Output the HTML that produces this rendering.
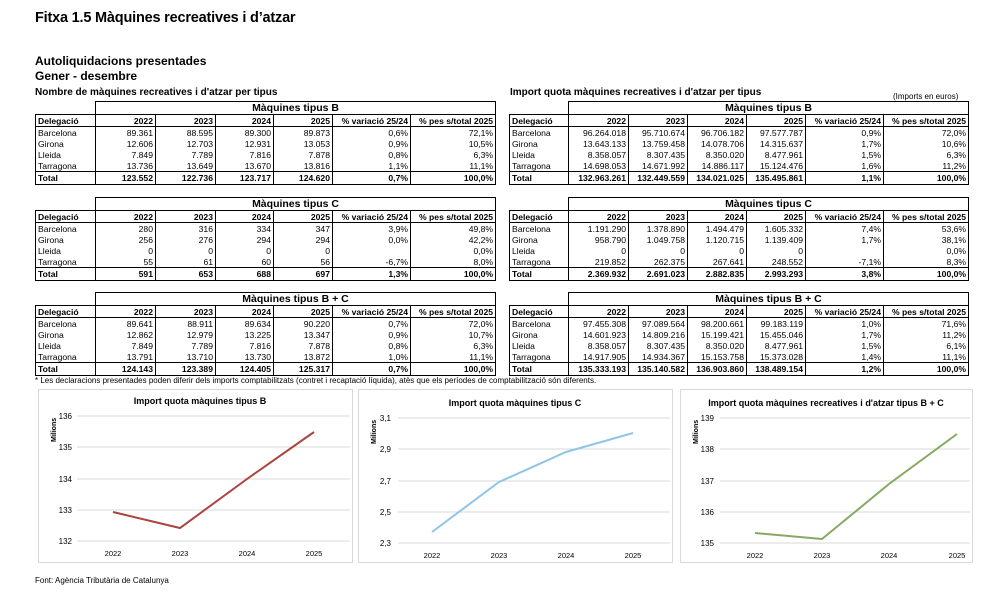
<!DOCTYPE html>
<html><head><meta charset="utf-8"><style>
body{margin:0;width:1000px;height:595px;background:#fff;position:relative;font-family:"Liberation Sans",Arial,sans-serif;color:#000;overflow:hidden}
.a{position:absolute;white-space:nowrap}
table{position:absolute;border-collapse:collapse;table-layout:fixed;font-size:8.6px;border:none}
td{padding:0 2px;text-align:right;border-left:1px solid #000;border-right:1px solid #000;line-height:10px;height:11px;overflow:hidden;white-space:nowrap}
td:first-child{text-align:left}
tr.t td{border:none;border-bottom:1px solid #000}
tr.t td.h{border:1.5px solid #000;text-align:center;font-weight:bold;font-size:10.5px;height:12px;line-height:12px}
tr.hd td{font-weight:bold;border:1px solid #000;height:11px}
tr.hd td:first-child{border-left:1.5px solid #000}
tr.tot td{font-weight:bold;border-top:1px solid #000;border-bottom:1.5px solid #000;height:12px}
tr td:first-child{border-left:1.5px solid #000}
tr td:last-child{border-right:1.5px solid #000}
tr.t td:first-child{border-left:none}
</style></head><body>
<div class="a" style="left:35px;top:10px;font-size:14.5px;font-weight:bold;letter-spacing:-0.2px">Fitxa 1.5 Màquines recreatives i d’atzar</div>
<div class="a" style="left:35px;top:54px;font-size:12px;font-weight:bold">Autoliquidacions presentades</div>
<div class="a" style="left:35px;top:69px;font-size:12px;font-weight:bold">Gener - desembre</div>
<div class="a" style="left:35px;top:87px;font-size:10px;font-weight:bold">Nombre de màquines recreatives i d'atzar per tipus</div>
<div class="a" style="left:510px;top:87px;font-size:10px;font-weight:bold">Import quota màquines recreatives i d'atzar per tipus</div>
<div class="a" style="left:893px;top:92px;font-size:8px">(Imports en euros)</div>

<table style="left:35px;top:101px;width:460px">
<colgroup><col style="width:60px"><col style="width:60px"><col style="width:60px"><col style="width:58px"><col style="width:59px"><col style="width:78px"><col style="width:85px"></colgroup>
<tr class="t"><td></td><td class="h" colspan="6">Màquines tipus B</td></tr>
<tr class="hd"><td>Delegació</td><td>2022</td><td>2023</td><td>2024</td><td>2025</td><td>% variació 25/24</td><td>% pes s/total 2025</td></tr>
<tr><td>Barcelona</td><td>89.361</td><td>88.595</td><td>89.300</td><td>89.873</td><td>0,6%</td><td>72,1%</td></tr>
<tr><td>Girona</td><td>12.606</td><td>12.703</td><td>12.931</td><td>13.053</td><td>0,9%</td><td>10,5%</td></tr>
<tr><td>Lleida</td><td>7.849</td><td>7.789</td><td>7.816</td><td>7.878</td><td>0,8%</td><td>6,3%</td></tr>
<tr><td>Tarragona</td><td>13.736</td><td>13.649</td><td>13.670</td><td>13.816</td><td>1,1%</td><td>11,1%</td></tr>
<tr class="tot"><td>Total</td><td>123.552</td><td>122.736</td><td>123.717</td><td>124.620</td><td>0,7%</td><td>100,0%</td></tr>
</table>
<table style="left:35px;top:197px;width:460px">
<colgroup><col style="width:60px"><col style="width:60px"><col style="width:60px"><col style="width:58px"><col style="width:59px"><col style="width:78px"><col style="width:85px"></colgroup>
<tr class="t"><td></td><td class="h" colspan="6">Màquines tipus C</td></tr>
<tr class="hd"><td>Delegació</td><td>2022</td><td>2023</td><td>2024</td><td>2025</td><td>% variació 25/24</td><td>% pes s/total 2025</td></tr>
<tr><td>Barcelona</td><td>280</td><td>316</td><td>334</td><td>347</td><td>3,9%</td><td>49,8%</td></tr>
<tr><td>Girona</td><td>256</td><td>276</td><td>294</td><td>294</td><td>0,0%</td><td>42,2%</td></tr>
<tr><td>Lleida</td><td>0</td><td>0</td><td>0</td><td>0</td><td></td><td>0,0%</td></tr>
<tr><td>Tarragona</td><td>55</td><td>61</td><td>60</td><td>56</td><td>-6,7%</td><td>8,0%</td></tr>
<tr class="tot"><td>Total</td><td>591</td><td>653</td><td>688</td><td>697</td><td>1,3%</td><td>100,0%</td></tr>
</table>
<table style="left:35px;top:292px;width:460px">
<colgroup><col style="width:60px"><col style="width:60px"><col style="width:60px"><col style="width:58px"><col style="width:59px"><col style="width:78px"><col style="width:85px"></colgroup>
<tr class="t"><td></td><td class="h" colspan="6">Màquines tipus B + C</td></tr>
<tr class="hd"><td>Delegació</td><td>2022</td><td>2023</td><td>2024</td><td>2025</td><td>% variació 25/24</td><td>% pes s/total 2025</td></tr>
<tr><td>Barcelona</td><td>89.641</td><td>88.911</td><td>89.634</td><td>90.220</td><td>0,7%</td><td>72,0%</td></tr>
<tr><td>Girona</td><td>12.862</td><td>12.979</td><td>13.225</td><td>13.347</td><td>0,9%</td><td>10,7%</td></tr>
<tr><td>Lleida</td><td>7.849</td><td>7.789</td><td>7.816</td><td>7.878</td><td>0,8%</td><td>6,3%</td></tr>
<tr><td>Tarragona</td><td>13.791</td><td>13.710</td><td>13.730</td><td>13.872</td><td>1,0%</td><td>11,1%</td></tr>
<tr class="tot"><td>Total</td><td>124.143</td><td>123.389</td><td>124.405</td><td>125.317</td><td>0,7%</td><td>100,0%</td></tr>
</table>

<table style="left:509px;top:101px;width:459px">
<colgroup><col style="width:59px"><col style="width:60px"><col style="width:59px"><col style="width:59px"><col style="width:59px"><col style="width:78px"><col style="width:85px"></colgroup>
<tr class="t"><td></td><td class="h" colspan="6">Màquines tipus B</td></tr>
<tr class="hd"><td>Delegació</td><td>2022</td><td>2023</td><td>2024</td><td>2025</td><td>% variació 25/24</td><td>% pes s/total 2025</td></tr>
<tr><td>Barcelona</td><td>96.264.018</td><td>95.710.674</td><td>96.706.182</td><td>97.577.787</td><td>0,9%</td><td>72,0%</td></tr>
<tr><td>Girona</td><td>13.643.133</td><td>13.759.458</td><td>14.078.706</td><td>14.315.637</td><td>1,7%</td><td>10,6%</td></tr>
<tr><td>Lleida</td><td>8.358.057</td><td>8.307.435</td><td>8.350.020</td><td>8.477.961</td><td>1,5%</td><td>6,3%</td></tr>
<tr><td>Tarragona</td><td>14.698.053</td><td>14.671.992</td><td>14.886.117</td><td>15.124.476</td><td>1,6%</td><td>11,2%</td></tr>
<tr class="tot"><td>Total</td><td>132.963.261</td><td>132.449.559</td><td>134.021.025</td><td>135.495.861</td><td>1,1%</td><td>100,0%</td></tr>
</table>
<table style="left:509px;top:197px;width:459px">
<colgroup><col style="width:59px"><col style="width:60px"><col style="width:59px"><col style="width:59px"><col style="width:59px"><col style="width:78px"><col style="width:85px"></colgroup>
<tr class="t"><td></td><td class="h" colspan="6">Màquines tipus C</td></tr>
<tr class="hd"><td>Delegació</td><td>2022</td><td>2023</td><td>2024</td><td>2025</td><td>% variació 25/24</td><td>% pes s/total 2025</td></tr>
<tr><td>Barcelona</td><td>1.191.290</td><td>1.378.890</td><td>1.494.479</td><td>1.605.332</td><td>7,4%</td><td>53,6%</td></tr>
<tr><td>Girona</td><td>958.790</td><td>1.049.758</td><td>1.120.715</td><td>1.139.409</td><td>1,7%</td><td>38,1%</td></tr>
<tr><td>Lleida</td><td>0</td><td>0</td><td>0</td><td>0</td><td></td><td>0,0%</td></tr>
<tr><td>Tarragona</td><td>219.852</td><td>262.375</td><td>267.641</td><td>248.552</td><td>-7,1%</td><td>8,3%</td></tr>
<tr class="tot"><td>Total</td><td>2.369.932</td><td>2.691.023</td><td>2.882.835</td><td>2.993.293</td><td>3,8%</td><td>100,0%</td></tr>
</table>
<table style="left:509px;top:292px;width:459px">
<colgroup><col style="width:59px"><col style="width:60px"><col style="width:59px"><col style="width:59px"><col style="width:59px"><col style="width:78px"><col style="width:85px"></colgroup>
<tr class="t"><td></td><td class="h" colspan="6">Màquines tipus B + C</td></tr>
<tr class="hd"><td>Delegació</td><td>2022</td><td>2023</td><td>2024</td><td>2025</td><td>% variació 25/24</td><td>% pes s/total 2025</td></tr>
<tr><td>Barcelona</td><td>97.455.308</td><td>97.089.564</td><td>98.200.661</td><td>99.183.119</td><td>1,0%</td><td>71,6%</td></tr>
<tr><td>Girona</td><td>14.601.923</td><td>14.809.216</td><td>15.199.421</td><td>15.455.046</td><td>1,7%</td><td>11,2%</td></tr>
<tr><td>Lleida</td><td>8.358.057</td><td>8.307.435</td><td>8.350.020</td><td>8.477.961</td><td>1,5%</td><td>6,1%</td></tr>
<tr><td>Tarragona</td><td>14.917.905</td><td>14.934.367</td><td>15.153.758</td><td>15.373.028</td><td>1,4%</td><td>11,1%</td></tr>
<tr class="tot"><td>Total</td><td>135.333.193</td><td>135.140.582</td><td>136.903.860</td><td>138.489.154</td><td>1,2%</td><td>100,0%</td></tr>
</table>

<div class="a" style="left:35px;top:376px;font-size:8px">* Les declaracions presentades poden diferir dels imports comptabilitzats (contret i recaptació líquida), atès que els períodes de comptabilització són diferents.</div>

<svg class="a" style="left:0;top:0" width="1000" height="595" font-family="Liberation Sans, Arial, sans-serif">
<g fill="#fff" stroke="#d9d9d9"><rect x="38.5" y="389.5" width="314" height="173"/><rect x="358.5" y="389.5" width="314" height="173"/><rect x="680.5" y="389.5" width="292" height="173"/></g>
<g stroke="#d9d9d9" stroke-width="1">
<line x1="77" x2="350" y1="416" y2="416"/><line x1="77" x2="350" y1="447" y2="447"/><line x1="77" x2="350" y1="479" y2="479"/><line x1="77" x2="350" y1="510" y2="510"/><line x1="77" x2="350" y1="541" y2="541"/>
<line x1="398" x2="670" y1="418" y2="418"/><line x1="398" x2="670" y1="449" y2="449"/><line x1="398" x2="670" y1="481" y2="481"/><line x1="398" x2="670" y1="512" y2="512"/><line x1="398" x2="670" y1="543" y2="543"/>
<line x1="720" x2="970" y1="418" y2="418"/><line x1="720" x2="970" y1="449" y2="449"/><line x1="720" x2="970" y1="481" y2="481"/><line x1="720" x2="970" y1="512" y2="512"/><line x1="720" x2="970" y1="543" y2="543"/>
</g>
<g font-size="9" font-weight="bold" text-anchor="middle">
<text x="200" y="404">Import quota màquines tipus B</text>
<text x="515" y="406">Import quota màquines tipus C</text>
<text x="826" y="406">Import quota màquines recreatives i d'atzar tipus B + C</text>
</g>
<g font-size="8" text-anchor="end">
<text x="72" y="419">136</text><text x="72" y="450">135</text><text x="72" y="482">134</text><text x="72" y="513">133</text><text x="72" y="544">132</text>
<text x="391" y="421">3,1</text><text x="391" y="452">2,9</text><text x="391" y="484">2,7</text><text x="391" y="515">2,5</text><text x="391" y="546">2,3</text>
<text x="714" y="421">139</text><text x="714" y="452">138</text><text x="714" y="484">137</text><text x="714" y="515">136</text><text x="714" y="546">135</text>
</g>
<g font-size="7" font-weight="bold">
<text transform="translate(56,442) rotate(-90)">Milions</text>
<text transform="translate(376,444) rotate(-90)">Milions</text>
<text transform="translate(698,444) rotate(-90)">Milions</text>
</g>
<g font-size="7.5" text-anchor="middle">
<text x="113" y="556">2022</text><text x="180" y="556">2023</text><text x="247" y="556">2024</text><text x="314" y="556">2025</text>
<text x="432" y="558">2022</text><text x="499" y="558">2023</text><text x="566" y="558">2024</text><text x="633" y="558">2025</text>
<text x="755" y="558">2022</text><text x="822" y="558">2023</text><text x="889" y="558">2024</text><text x="957" y="558">2025</text>
</g>
<polyline fill="none" stroke="#a9443f" stroke-width="2" points="113,512 180,528 247,479 314,432"/>
<polyline fill="none" stroke="#8ec6e6" stroke-width="2" points="432,532 499,482 566,452 633,433"/>
<polyline fill="none" stroke="#86a960" stroke-width="2" points="755,533 822,539 889,484 957,434"/>
</svg>
<div class="a" style="left:35px;top:576px;font-size:8px">Font: Agència Tributària de Catalunya</div>
</body></html>
